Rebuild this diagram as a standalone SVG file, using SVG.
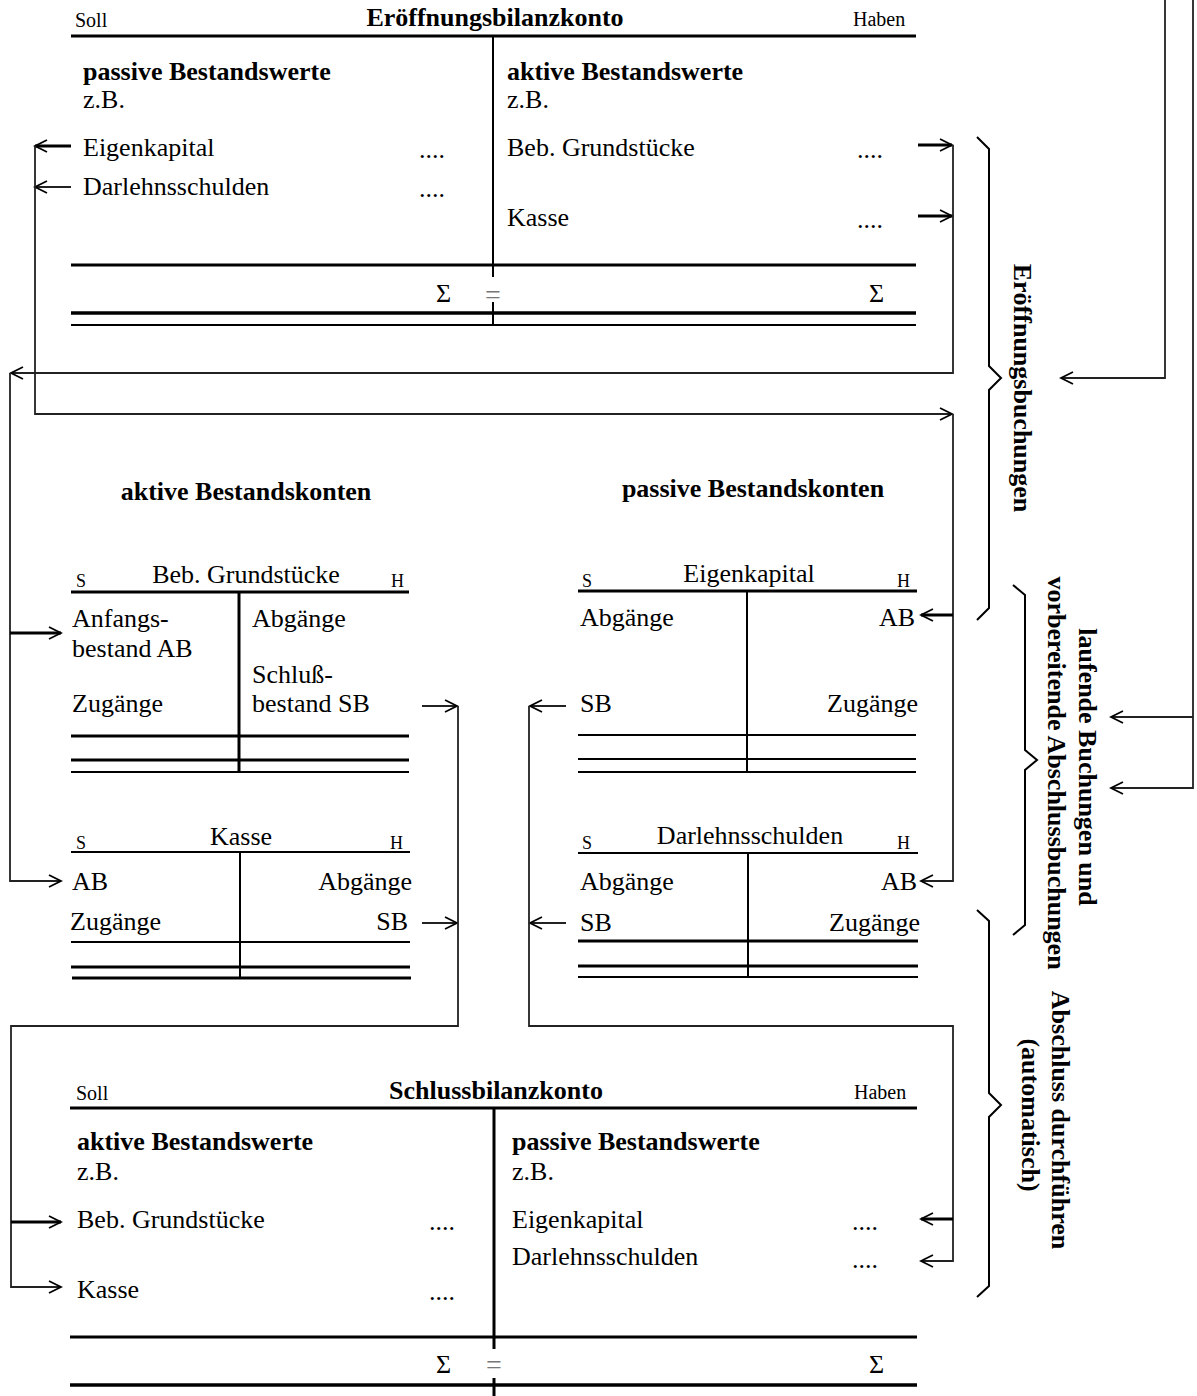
<svg xmlns="http://www.w3.org/2000/svg" width="1197" height="1396" viewBox="0 0 1197 1396">
<defs>
<style>
.t{font-family:"Liberation Serif","Times New Roman",serif;font-size:26px;fill:#000}
.b{font-weight:bold}
.sm{font-size:20px}
.sh{font-size:18px}
.eq{font-size:28px;fill:#777}
.mid{text-anchor:middle}
.end{text-anchor:end}
.ln{stroke:#000;fill:none}
.w2{stroke-width:2}
.w3{stroke-width:3}
.w4{stroke-width:3.6}
.c{stroke:#222;stroke-width:1.8;fill:none}
.ct{stroke:#000;stroke-width:3;fill:none}
.br{stroke:#000;stroke-width:2;fill:none}
</style>
<marker id="ah" markerUnits="userSpaceOnUse" viewBox="-14 -8 16 16" markerWidth="16" markerHeight="16" refX="0" refY="0" orient="auto">
<path d="M-12,-6 L0,0 L-12,6" fill="none" stroke="#000" stroke-width="1.8"/>
</marker>
</defs>
<rect width="1197" height="1396" fill="#fff"/>

<g id="eroeffnungsbilanzkonto">
<text class="t sm" x="75" y="27">Soll</text>
<text class="t b mid" x="495" y="26">Eröffnungsbilanzkonto</text>
<text class="t sm" x="853" y="26">Haben</text>
<path class="ln w3" d="M71 36 H916"/>
<path class="ln w2" d="M493 36 V277 M493 302 V324"/>
<text class="t eq mid" x="493" y="304">=</text>
<text class="t b" x="83" y="80">passive Bestandswerte</text>
<text class="t" x="83" y="108">z.B.</text>
<text class="t" x="83" y="156">Eigenkapital</text>
<text class="t" x="419" y="158">....</text>
<text class="t" x="83" y="195">Darlehnsschulden</text>
<text class="t" x="419" y="197">....</text>
<text class="t b" x="507" y="80">aktive Bestandswerte</text>
<text class="t" x="507" y="108">z.B.</text>
<text class="t" x="507" y="156">Beb. Grundstücke</text>
<text class="t" x="857" y="158">....</text>
<text class="t" x="507" y="226">Kasse</text>
<text class="t" x="857" y="228">....</text>
<path class="ln w3" d="M71 265 H916"/>
<text class="t" x="436" y="302">Σ</text>
<text class="t" x="869" y="302">Σ</text>
<path class="ln w4" d="M71 313 H916"/>
<path class="ln w2" d="M71 325 H916"/>
</g>

<g id="heading-aktiv">
<text class="t b mid" x="246" y="500">aktive Bestandskonten</text>
</g>
<g id="heading-passiv">
<text class="t b mid" x="753" y="497">passive Bestandskonten</text>
</g>

<g id="konto-grundstuecke">
<text class="t sh" x="76" y="587">S</text>
<text class="t mid" x="246" y="583">Beb. Grundstücke</text>
<text class="t sh" x="391" y="587">H</text>
<path class="ln w3" d="M71 592 H409"/>
<path class="ln w3" d="M239 592 V773"/>
<text class="t" x="72" y="627">Anfangs-</text>
<text class="t" x="72" y="657">bestand AB</text>
<text class="t" x="72" y="712">Zugänge</text>
<text class="t" x="252" y="627">Abgänge</text>
<text class="t" x="252" y="683">Schluß-</text>
<text class="t" x="252" y="712">bestand SB</text>
<path class="ln w3" d="M71 736 H409 M71 760 H409"/>
<path class="ln w2" d="M71 772 H409"/>
</g>

<g id="konto-kasse">
<text class="t sh" x="76" y="849">S</text>
<text class="t mid" x="241" y="845">Kasse</text>
<text class="t sh" x="390" y="849">H</text>
<path class="ln w2" d="M71 852 H410"/>
<path class="ln w2" d="M240 852 V978"/>
<text class="t" x="72" y="890">AB</text>
<text class="t end" x="412" y="890">Abgänge</text>
<text class="t" x="70" y="930">Zugänge</text>
<text class="t end" x="408" y="930">SB</text>
<path class="ln w2" d="M71 942 H410"/>
<path class="ln w3" d="M71 967 H410 M72 978 H411"/>
</g>

<g id="konto-eigenkapital">
<text class="t sh" x="582" y="587">S</text>
<text class="t mid" x="749" y="582">Eigenkapital</text>
<text class="t sh" x="897" y="587">H</text>
<path class="ln w3" d="M578 591 H917"/>
<path class="ln w2" d="M747 591 V772"/>
<text class="t" x="580" y="626">Abgänge</text>
<text class="t end" x="915" y="626">AB</text>
<text class="t" x="580" y="712">SB</text>
<text class="t end" x="918" y="712">Zugänge</text>
<path class="ln w2" d="M578 735 H916 M578 759 H916 M578 772 H916"/>
</g>

<g id="konto-darlehnsschulden">
<text class="t sh" x="582" y="849">S</text>
<text class="t mid" x="750" y="844">Darlehnsschulden</text>
<text class="t sh" x="897" y="849">H</text>
<path class="ln w2" d="M578 853 H918"/>
<path class="ln w2" d="M748 853 V977"/>
<text class="t" x="580" y="890">Abgänge</text>
<text class="t end" x="917" y="890">AB</text>
<text class="t" x="580" y="931">SB</text>
<text class="t end" x="920" y="931">Zugänge</text>
<path class="ln w3" d="M578 941 H918 M578 966 H918"/>
<path class="ln w2" d="M578 977 H918"/>
</g>

<g id="schlussbilanzkonto">
<text class="t sm" x="76" y="1100">Soll</text>
<text class="t b mid" x="496" y="1099">Schlussbilanzkonto</text>
<text class="t sm" x="854" y="1099">Haben</text>
<path class="ln w3" d="M70 1108 H917"/>
<path class="ln w3" d="M494 1108 V1349 M494 1378 V1396"/>
<text class="t eq mid" x="494" y="1374">=</text>
<text class="t b" x="77" y="1150">aktive Bestandswerte</text>
<text class="t" x="77" y="1180">z.B.</text>
<text class="t" x="77" y="1228">Beb. Grundstücke</text>
<text class="t" x="429" y="1230">....</text>
<text class="t" x="77" y="1298">Kasse</text>
<text class="t" x="429" y="1300">....</text>
<text class="t b" x="512" y="1150">passive Bestandswerte</text>
<text class="t" x="512" y="1180">z.B.</text>
<text class="t" x="512" y="1228">Eigenkapital</text>
<text class="t" x="852" y="1230">....</text>
<text class="t" x="512" y="1265">Darlehnsschulden</text>
<text class="t" x="852" y="1268">....</text>
<path class="ln w3" d="M70 1337 H917"/>
<text class="t" x="436" y="1373">Σ</text>
<text class="t" x="869" y="1373">Σ</text>
<path class="ln w4" d="M70 1385 H917"/>
</g>

<g id="label-eroeffnungsbuchungen">
<text class="t b mid" transform="translate(1014 388) rotate(90)">Eröffnungsbuchungen</text>
</g>
<g id="label-laufende-buchungen">
<text class="t b mid" transform="translate(1079 767) rotate(90)">laufende Buchungen und</text>
<text class="t b mid" transform="translate(1048 773) rotate(90)">vorbereitende Abschlussbuchungen</text>
</g>
<g id="label-abschluss">
<text class="t b mid" transform="translate(1052 1120) rotate(90)">Abschluss durchführen</text>
<text class="t b mid" transform="translate(1022 1115) rotate(90)">(automatisch)</text>
</g>

<g id="braces">
<path class="br" d="M977 137 L989 149 V366 L1001 378 L989 390 V608 L977 620"/>
<path class="br" d="M1013 585 L1025 595 V750 L1037 760 L1025 770 V925 L1013 935"/>
<path class="br" d="M977 910 L989 921 V1093 L1001 1105 L989 1117 V1286 L977 1297"/>
</g>

<g id="connectors">
<path class="ct" d="M918 145 H952" marker-end="url(#ah)"/>
<path class="ct" d="M918 216 H952" marker-end="url(#ah)"/>
<path class="c" d="M953 145 V373 H11" marker-end="url(#ah)"/>
<path class="c" d="M10 373 V881 H61" marker-end="url(#ah)"/>
<path class="ct" d="M10 633 H61" marker-end="url(#ah)"/>

<path class="ct" d="M71 146 H35" marker-end="url(#ah)"/>
<path class="c" d="M71 187 H35" marker-end="url(#ah)"/>
<path class="c" d="M35 146 V414 H952" marker-end="url(#ah)"/>
<path class="c" d="M953 414 V881 H921" marker-end="url(#ah)"/>
<path class="ct" d="M953 615 H921" marker-end="url(#ah)"/>

<path class="c" d="M422 706 H457" marker-end="url(#ah)"/>
<path class="c" d="M422 923 H457" marker-end="url(#ah)"/>
<path class="c" d="M458 706 V1026 H11 V1287 H61" marker-end="url(#ah)"/>
<path class="ct" d="M11 1222 H61" marker-end="url(#ah)"/>

<path class="c" d="M566 706 H530" marker-end="url(#ah)"/>
<path class="c" d="M566 923 H530" marker-end="url(#ah)"/>
<path class="c" d="M529 706 V1026 H953 V1261 H921" marker-end="url(#ah)"/>
<path class="ct" d="M953 1219 H921" marker-end="url(#ah)"/>

<path class="c" d="M1165 0 V378 H1061" marker-end="url(#ah)"/>
<path class="c" d="M1193 0 V788 H1111" marker-end="url(#ah)"/>
<path class="c" d="M1193 717 H1111" marker-end="url(#ah)"/>
</g>
</svg>
